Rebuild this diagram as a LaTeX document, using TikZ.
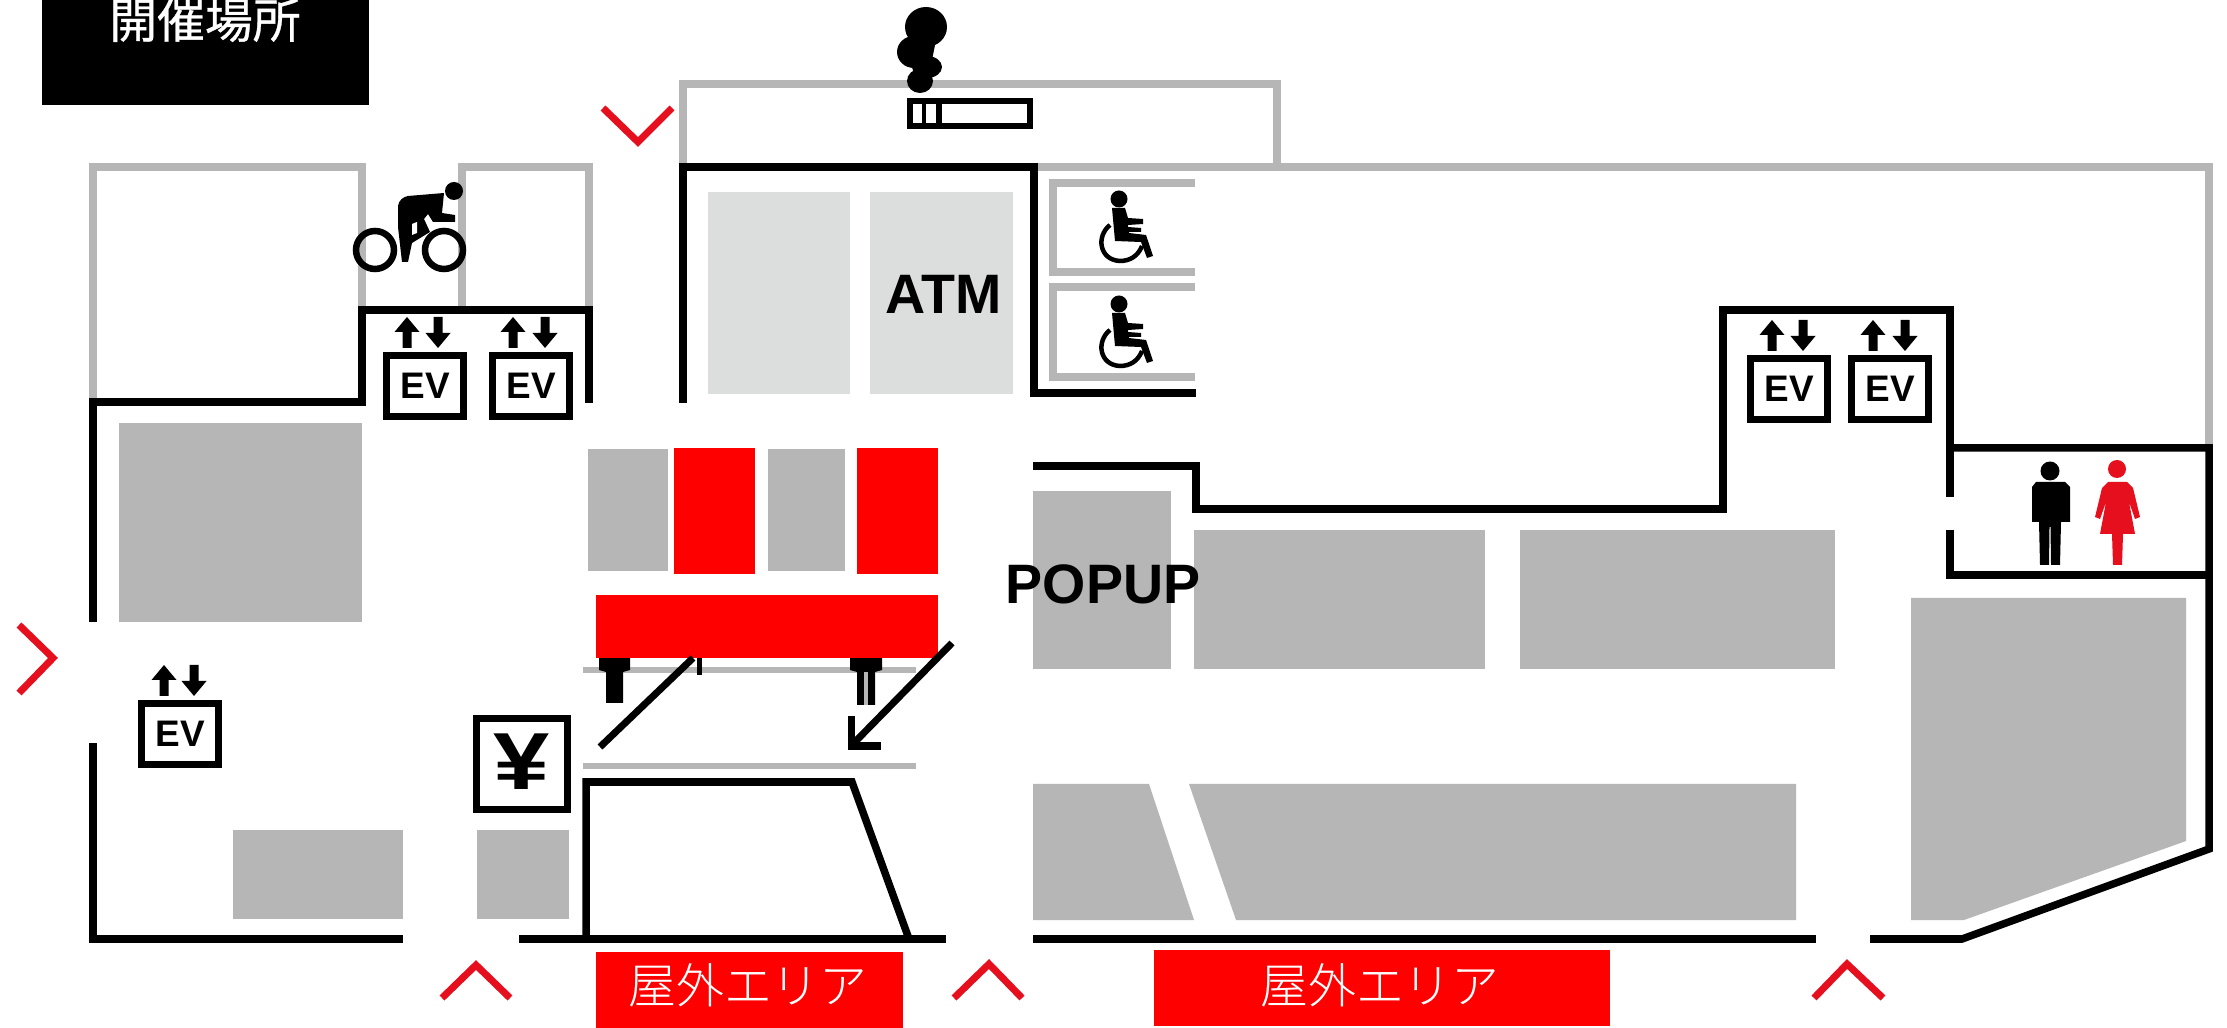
\documentclass[tikz,border=0pt]{standalone}
\usepackage{fontspec}
\setmainfont{Liberation Sans}
\newfontfamily\cjk{Noto Sans CJK JP}
\newfontfamily\cjkheavy[FakeBold=0.7]{Noto Sans CJK JP}
\newfontfamily\cjklight{Noto Sans CJK JP Light}
\definecolor{wallgray}{HTML}{B5B6B5}
\definecolor{shopgray}{HTML}{B5B6B5}
\definecolor{atmgray}{HTML}{DCDDDD}
\definecolor{chevred}{HTML}{E60F1E}
\definecolor{labelred}{HTML}{FF0000}
\newcommand{\evup}[2]{\fill[black] (#1,#2) -- (#1+12.5,#2+15) -- (#1+4.5,#2+15) -- (#1+4.5,#2+31) -- (#1-4.5,#2+31) -- (#1-4.5,#2+15) -- (#1-12.5,#2+15) -- cycle;}
\newcommand{\evdown}[2]{\fill[black] (#1,#2+31) -- (#1+12.5,#2+16) -- (#1+4.5,#2+16) -- (#1+4.5,#2) -- (#1-4.5,#2) -- (#1-4.5,#2+16) -- (#1-12.5,#2+16) -- cycle;}
\newcommand{\wheelie}[1]{%
 \fill[black] (1119,#1+199) circle (8.5);
 \fill[black] (1112,#1+208) -- (1125,#1+208) -- (1128,#1+218) -- (1143,#1+219) -- (1143,#1+224) -- (1128,#1+225) -- (1128,#1+227) -- (1141,#1+228) -- (1141,#1+232) -- (1129,#1+232) -- (1129,#1+233) -- (1146,#1+235) -- (1153,#1+256) -- (1147,#1+258) -- (1141,#1+242) -- (1115,#1+241) -- cycle;
 \draw[black,line width=0.045cm] (1110,#1+225) .. controls (1096,#1+236) and (1099,#1+260) .. (1120,#1+261) .. controls (1130,#1+261) and (1138,#1+256) .. (1142,#1+246);
}
\tikzset{
 wall/.style={draw=black,line width=0.075cm,miter limit=10},
 graywall/.style={draw=wallgray,line width=0.075cm},
 shop/.style={fill=shopgray},
 atmshop/.style={fill=atmgray},
 redblock/.style={fill=labelred},
 chevron/.style={draw=chevred,line width=0.07cm},
 evbox/.style={draw=black,fill=white,line width=0.07cm,minimum width=0.77cm,minimum height=0.60cm,inner sep=0pt,font=\fontsize{10.5}{12}\bfseries\selectfont},
 bigtext/.style={text=black,inner sep=0pt,font=\fontsize{15.8}{18}\bfseries\selectfont},
 redtext/.style={text=white,inner sep=0pt,font=\cjklight\fontsize{13.6}{16}\selectfont},
}
\begin{document}
\begin{tikzpicture}[x=0.01cm,y=-0.01cm]
\useasboundingbox (0,0) rectangle (2227,1028);
\clip (0,0) rectangle (2227,1028);
\fill[white] (0,0) rectangle (2227,1028);
% title
\fill[black] (42,-2) rectangle (369,105);
\node[text=white,inner sep=0pt,font=\cjkheavy\fontsize{13.6}{16}\selectfont] (title) at (205,20) {開催場所};
% gray walls
\draw[graywall] (93,403) -- (93,167) -- (362,167) -- (362,310);
\draw[graywall] (462,310) -- (462,167) -- (589,167) -- (589,310);
\draw[graywall] (683,167) -- (683,84) -- (1277,84) -- (1277,167);
\draw[graywall] (1034,167) -- (2209,167) -- (2209,448);
\draw[graywall] (1195,183) -- (1053,183) -- (1053,272) -- (1195,272);
\draw[graywall] (1195,287) -- (1053,287) -- (1053,377) -- (1195,377);
\draw[graywall,line width=0.065cm] (583,670) -- (916,670);
\draw[graywall,line width=0.065cm] (583,766) -- (916,766);
% shops
\fill[atmshop] (708,192) rectangle (850,394);
\fill[atmshop] (870,192) rectangle (1013,394);
\fill[shop] (119,423) rectangle (362,622);
\fill[shop] (233,830) rectangle (403,919);
\fill[shop] (477,830) rectangle (569,919);
\fill[shop] (588,449) rectangle (668,571);
\fill[shop] (768,449) rectangle (845,571);
\fill[shop] (1033,491) rectangle (1171,669);
\fill[shop] (1194,530) rectangle (1485,669);
\fill[shop] (1520,530) rectangle (1835,669);
\fill[shop] (1033,784) -- (1149,784) -- (1194,920) -- (1033,920) -- cycle;
\fill[shop] (1189,784) -- (1796,784) -- (1796,920) -- (1236,920) -- cycle;
\fill[shop] (1911,598) -- (2186,598) -- (2186,841) -- (1964,920) -- (1911,920) -- cycle;
% stubs below red bar
\fill[black] (599,655) -- (630,655) -- (630,670) -- (623,672) -- (623,703) -- (606,703) -- (606,672) -- (599,670) -- cycle;
\fill[black] (850,655) -- (882,655) -- (882,670) -- (875,672) -- (875,705) -- (857,705) -- (857,672) -- (850,670) -- cycle;
\fill[wallgray] (864,672) rectangle (868,705);
\fill[black] (697,655) rectangle (702,675);
% red blocks
\fill[redblock] (674,448) rectangle (755,574);
\fill[redblock] (857,448) rectangle (938,574);
\fill[redblock] (596,595) rectangle (938,658);
\fill[redblock] (596,952) rectangle (903,1028);
\fill[redblock] (1154,950) rectangle (1610,1026);
\node[redtext] (out1) at (748,985) {屋外エリア};
\node[redtext] (out2) at (1380,985) {屋外エリア};
% black walls
\draw[wall] (589,403) -- (589,310) -- (362,310) -- (362,402) -- (93,402) -- (93,622);
\draw[wall] (93,743) -- (93,939) -- (403,939);
\draw[wall] (519,939) -- (946,939);
\draw[wall] (683,403) -- (683,167) -- (1034,167) -- (1034,393) -- (1196,393);
\draw[wall] (1033,466) -- (1196,466) -- (1196,509) -- (1723,509) -- (1723,310) -- (1950,310) -- (1950,497);
\draw[wall] (1950,530) -- (1950,575) -- (2209,575);
\draw[wall] (1950,448) -- (2209,448) -- (2209,849) -- (1962,939) -- (1870,939);
\draw[wall] (1033,939) -- (1816,939);
\draw[wall] (586,939) -- (586,782) -- (852,782) -- (909,939);
% diagonal lines
\draw[wall,line width=0.07cm] (600,747) -- (693,658);
\draw[wall,line width=0.07cm] (952,643) -- (853,744);
\draw[wall,line width=0.07cm] (851,716) -- (851,746) -- (881,746);
% chevrons
\draw[chevron] (603,108) -- (638,142) -- (672,108);
\draw[chevron] (19,625) -- (53,658) -- (19,693);
\draw[chevron] (442,998) -- (476,965) -- (510,998);
\draw[chevron] (954,998) -- (989,964) -- (1022,998);
\draw[chevron] (1814,998) -- (1847,964) -- (1883,998);
% EV
\node[evbox] (ev1) at (425,386) {EV};
\node[evbox] (ev2) at (531,386) {EV};
\node[evbox] (ev3) at (1789,389) {EV};
\node[evbox] (ev4) at (1890,389) {EV};
\node[evbox] (ev5) at (180,734) {EV};
\evup{407}{317}\evdown{438}{317}\evup{513}{317}\evdown{545}{317}
\evup{1772}{320}\evdown{1803}{320}\evup{1873}{320}\evdown{1905}{320}
\evup{164}{665}\evdown{194}{665}
% yen
\node[draw=black,fill=white,line width=0.07cm,minimum width=0.91cm,minimum height=0.91cm,inner sep=0pt] (yenbox) at (522,764) {};
\node[inner sep=0pt,xscale=1.25,font=\fontsize{23}{26}\bfseries\selectfont] (yen) at (522,762) {¥};
% labels
\node[bigtext] (atm) at (944,294) {ATM};
\node[bigtext] (popup) at (1103,584) {POPUP};
% cyclist
\draw[black,line width=0.065cm] (375,250) circle (19);
\draw[black,line width=0.065cm] (444,250) circle (19);
\fill[black] (454,191) circle (9);
\fill[black] (398,206) .. controls (399,200) and (403,197) .. (408,196) -- (444,193) -- (442,213) -- (455,215) -- (455,222) -- (433,222) -- (428,214) -- (424,219) -- (430,232) -- (412,243) -- (408,262) -- (402,262) -- (398,227) -- cycle;
\fill[white] (412,224) -- (417,222) -- (417,233) -- (412,235) -- cycle;
% smoke
\fill[black] (926,27) ellipse (21 and 20);
\fill[black] (914,52) ellipse (17 and 16);
\fill[black] (927,67) ellipse (15 and 11);
\fill[black] (920,81) ellipse (13 and 12);
\fill[black] (915,35) -- (935,45) -- (930,70) -- (915,75) -- cycle;
% cigarette
\draw[wall,line width=0.065cm] (910,101) rectangle (1030,126);
\fill[black] (922,101) rectangle (926,126);
\fill[black] (936,101) rectangle (942,126);
% wheelchairs
\wheelie{0}
\wheelie{105}
% man
\fill[black] (2050,471) circle (9.5);
\fill[black] (2036,482) -- (2065,482) -- (2070,487) -- (2070,522) -- (2061,522) -- (2060,565) -- (2051,565) -- (2050.5,527) -- (2049.5,527) -- (2049,565) -- (2040,565) -- (2039,522) -- (2032,522) -- (2032,487) -- cycle;
% woman
\fill[chevred] (2117,469) circle (9);
\fill[chevred] (2108,482) -- (2127,482) -- (2133,488) -- (2140,517) -- (2135,519) -- (2129,502) -- (2135,534) -- (2123,534) -- (2122,565) -- (2113,565) -- (2112,534) -- (2100,534) -- (2106,502) -- (2100,519) -- (2095,517) -- (2102,488) -- cycle;
\end{tikzpicture}
\end{document}
